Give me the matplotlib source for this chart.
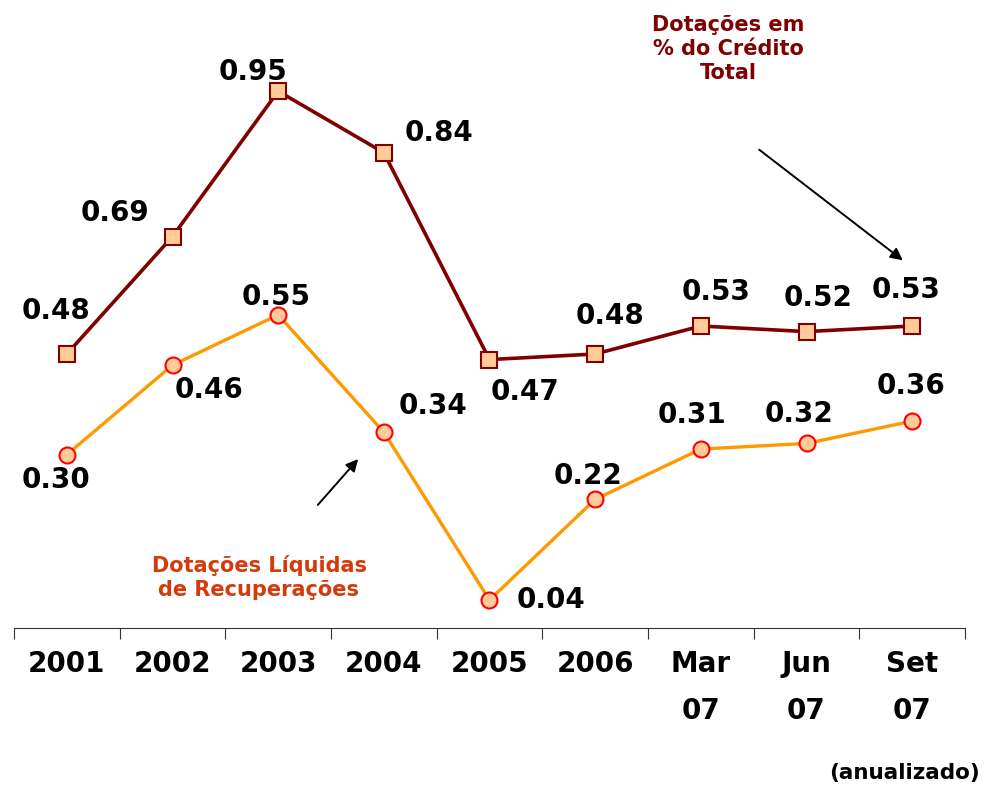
import numpy as np
import matplotlib
matplotlib.use('Agg')
import matplotlib.pyplot as plt

# data
categories = ['2001', '2002', '2003', '2004', '2005', '2006', 'Mar\n07', 'Jun\n07', 'Set\n07']
credito_total = [0.48, 0.69, 0.95, 0.84, 0.47, 0.48, 0.53, 0.52, 0.53]
liquidas = [0.30, 0.46, 0.55, 0.34, 0.04, 0.22, 0.31, 0.32, 0.36]

# label offsets in pixels (dx, dy), dy upward
off_total = [(-11, 43), (-58, 24), (-25, 19), (55, 20), (35, -32), (15, 38), (15, 34), (12, 34), (-6, 36)]
off_liq = [(-11, -25), (37, -25), (-2, 18), (49, 26), (62, 0), (-7, 23), (-9, 34), (-7, 29), (-1, 35)]

plt.rcParams['font.family'] = 'DejaVu Sans'

fig = plt.figure(figsize=(9.93, 7.88), dpi=100)
ax = fig.add_axes([14/993, 1-628/788, (965-14)/993, 628/788])

x = np.arange(len(categories))
ax.plot(x, credito_total, color='#800000', lw=2.6, marker='s', ms=11,
        mfc='#FFCC99', mec='#800000', mew=1.5, zorder=3)
ax.plot(x, liquidas, color='#FF9900', lw=2.4, marker='o', ms=11.5,
        mfc='#FFCC99', mec='#FF0000', mew=1.5, zorder=3)

for xi, v, (dx, dy) in zip(x, credito_total, off_total):
    ax.annotate('%.2f' % v, (xi, v), xytext=(dx, dy), textcoords='offset pixels',
                ha='center', va='center', fontsize=20, fontweight='bold')
for xi, v, (dx, dy) in zip(x, liquidas, off_liq):
    ax.annotate('%.2f' % v, (xi, v), xytext=(dx, dy), textcoords='offset pixels',
                ha='center', va='center', fontsize=20, fontweight='bold')

ax.set_xlim(-0.5, len(categories) - 0.5)
ax.set_ylim(-0.01, 1.113)

ax.set_xticks(np.arange(-0.5, len(categories)), minor=False)
ax.set_xticklabels([])
ax.set_xticks(x, minor=True)
ax.set_xticklabels(categories, minor=True, fontsize=20, fontweight='bold')
ax.tick_params(axis='x', which='major', length=8, direction='out', color='#333333')
ax.tick_params(axis='x', which='minor', length=0, pad=16)
for lbl in ax.get_xticklabels(minor=True):
    lbl.set_linespacing(1.85)
ax.set_yticks([])
for s in ['top', 'right', 'left']:
    ax.spines[s].set_visible(False)
ax.spines['bottom'].set_color('#333333')

# annotations
fig.text(728/993, 1-49/788, 'Dotações em\n% do Crédito\nTotal', color='#800000',
         fontsize=15, fontweight='bold', ha='center', va='center', linespacing=1.25)
fig.text(259/993, 1-577/788, 'Dotações Líquidas\nde Recuperações', color='#D43A0A',
         fontsize=15, fontweight='bold', ha='center', va='center', linespacing=1.25)
fig.text(980/993, 1-773/788, '(anualizado)', fontsize=15.5, fontweight='bold',
         ha='right', va='center')

ax.annotate('', xy=(905/993, 1-262/788), xytext=(757/993, 1-148/788),
            xycoords='figure fraction', textcoords='figure fraction',
            arrowprops=dict(arrowstyle='-|>', color='black', lw=1.4, mutation_scale=18))
ax.annotate('', xy=(360/993, 1-457/788), xytext=(316/993, 1-507/788),
            xycoords='figure fraction', textcoords='figure fraction',
            arrowprops=dict(arrowstyle='-|>', color='black', lw=1.4, mutation_scale=18))

fig.savefig('out.png', dpi=100)
